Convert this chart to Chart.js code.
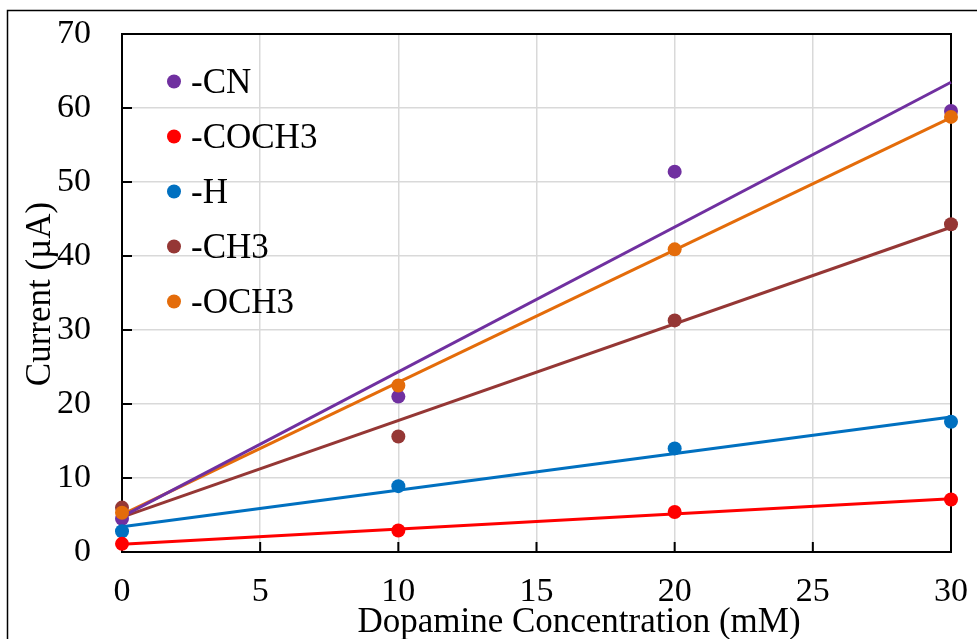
<!DOCTYPE html>
<html>
<head>
<meta charset="utf-8">
<script src="https://cdn.jsdelivr.net/npm/chart.js@4.4.1/dist/chart.umd.min.js"></script>
<style>
  html, body { margin: 0; padding: 0; background: #fff; }
  #wrap { width: 977px; height: 639px; position: relative; }
</style>
</head>
<body>
<div id="wrap"><canvas id="dopamine"></canvas></div>
<script>
// concentrations (mM)
var concentrations = [0, 10, 20, 30];

var seriesNames = ["-CN", "-COCH3", "-H", "-CH3", "-OCH3"];
var cnValues    = [4.5, 21.0, 51.4, 59.6];
var coch3Values = [1.1, 2.9, 5.4, 7.1];
var hValues     = [2.8, 8.9, 14.0, 17.6];
var ch3Values   = [6.0, 15.6, 31.3, 44.3];
var och3Values  = [5.3, 22.5, 40.9, 58.8];
var seriesColors = ["#7030A0", "#FF0000", "#0070C0", "#953735", "#E46C0A"];

var xTitle = "Dopamine Concentration (mM)";
var yTitle = "Current (\u00b5A)";

var allValues = [cnValues, coch3Values, hValues, ch3Values, och3Values];
var FONT = "'Liberation Serif', 'Times New Roman', serif";

// least squares fit, like the Excel linear trendline
function linearFit(xs, ys) {
    var n = xs.length, sx = 0, sy = 0, sxx = 0, sxy = 0;
    for (var i = 0; i < n; i++) {
        sx += xs[i]; sy += ys[i];
        sxx += xs[i] * xs[i]; sxy += xs[i] * ys[i];
    }
    var slope = (n * sxy - sx * sy) / (n * sxx - sx * sx);
    var icpt = (sy - slope * sx) / n;
    var x0 = xs[0], x1 = xs[n - 1];
    return [{x: x0, y: icpt + slope * x0}, {x: x1, y: icpt + slope * x1}];
}

var datasets = [];
var pointOrder = [5, 3, 4, 2, 1];
allValues.forEach(function(vals, i) {
    datasets.push({
        label: seriesNames[i] + " fit",
        type: "line",
        data: linearFit(concentrations, vals),
        borderColor: seriesColors[i],
        borderWidth: 3,
        pointRadius: 0,
        fill: false,
        clip: false,
        order: 10 + i
    });
    datasets.push({
        label: seriesNames[i],
        type: "scatter",
        data: concentrations.map(function(x, j) { return {x: x, y: vals[j]}; }),
        backgroundColor: seriesColors[i],
        borderColor: seriesColors[i],
        pointRadius: 7,
        pointHoverRadius: 7,
        borderWidth: 0,
        showLine: false,
        clip: false,
        order: pointOrder[i]
    });
});

var decor = {
    id: "decor",
    beforeDraw: function(chart) {
        var ctx = chart.ctx;
        ctx.save();
        ctx.strokeStyle = "#000";
        ctx.lineWidth = 1.5;
        ctx.strokeRect(7.5, 10.5, 1200, 1000);
        ctx.restore();
    },
    beforeDatasetsDraw: function(chart) {
        var ctx = chart.ctx, a = chart.chartArea;
        var xs = chart.scales.x, ys = chart.scales.y;
        ctx.save();
        ctx.strokeStyle = "#000";
        ctx.lineWidth = 2;
        ctx.strokeRect(a.left, a.top, a.right - a.left, a.bottom - a.top);
        // inward tick marks
        ctx.beginPath();
        xs.ticks.forEach(function(t) {
            var px = xs.getPixelForValue(t.value);
            ctx.moveTo(px, a.bottom);
            ctx.lineTo(px, a.bottom - 10);
        });
        ys.ticks.forEach(function(t) {
            var py = ys.getPixelForValue(t.value);
            ctx.moveTo(a.left, py);
            ctx.lineTo(a.left + 10, py);
        });
        ctx.stroke();
        ctx.restore();
    },
    afterDraw: function(chart) {
        var ctx = chart.ctx;
        ctx.save();
        ctx.fillStyle = "#000";
        ctx.font = "35px " + FONT;
        // legend
        seriesNames.forEach(function(name, i) {
            var cy = 81.5 + i * 55;
            ctx.beginPath();
            ctx.fillStyle = seriesColors[i];
            ctx.arc(174, cy, 7, 0, Math.PI * 2);
            ctx.fill();
            ctx.fillStyle = "#000";
            ctx.textAlign = "left";
            ctx.textBaseline = "alphabetic";
            ctx.fillText(name, 191, cy + 11.5);
        });
        // axis titles
        ctx.textAlign = "center";
        ctx.textBaseline = "alphabetic";
        ctx.fillText(xTitle, 579, 632);
        ctx.translate(50, 294);
        ctx.rotate(-Math.PI / 2);
        ctx.fillText(yTitle, 0, 0);
        ctx.restore();
    }
};

window.onload = function() {
    window.dopChart = new Chart(document.getElementById("dopamine").getContext("2d"), {
        type: "scatter",
        data: {datasets: datasets},
        options: {
            responsive: true,
            maintainAspectRatio: false,
            animation: false,
            layout: {padding: {left: 0, top: 34, right: 26, bottom: 0}},
            plugins: {legend: {display: false}, tooltip: {enabled: false}},
            scales: {
                x: {
                    type: "linear",
                    min: 0, max: 30,
                    ticks: {stepSize: 5, padding: 20, color: "#000", font: {family: FONT, size: 34}},
                    grid: {color: "#d9d9d9", lineWidth: 1.5, drawTicks: false},
                    border: {color: "#000", width: 2},
                    afterFit: function(s) { s.height = 87; s.paddingLeft = 0; s.paddingRight = 0; }
                },
                y: {
                    min: 0, max: 70,
                    ticks: {stepSize: 10, padding: 31, color: "#000", font: {family: FONT, size: 34}},
                    grid: {color: "#d9d9d9", lineWidth: 1.5, drawTicks: false},
                    border: {color: "#000", width: 2},
                    afterFit: function(s) { s.width = 122; s.paddingTop = 0; s.paddingBottom = 0; }
                }
            }
        },
        plugins: [decor]
    });
};
</script>
</body>
</html>
